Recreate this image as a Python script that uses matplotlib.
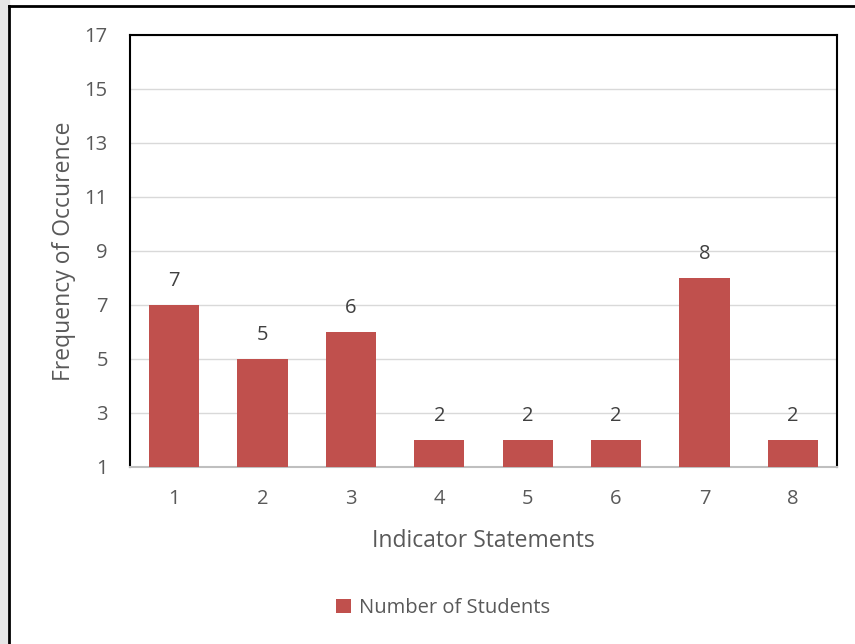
import matplotlib.pyplot as plt
from matplotlib.lines import Line2D
from matplotlib.patches import Rectangle

plt.rcParams['font.family'] = ['Open Sans', 'DejaVu Sans']

statements = ['1', '2', '3', '4', '5', '6', '7', '8']
students = [7, 5, 6, 2, 2, 2, 8, 2]
y_ticks = [1, 3, 5, 7, 9, 11, 13, 15, 17]

text_col = '#595959'
bar_col = '#C0504D'

fig = plt.figure(figsize=(8.55, 6.44), dpi=100)
W, H = 855, 644
ax = fig.add_axes([130 / W, 1 - 467 / H, (837 - 130) / W, (467 - 35) / H])

# grey strip + outer frame of the original screenshot
fig.patches.append(Rectangle((0, 0), 9 / W, 1, transform=fig.transFigure,
                             color='#e6e6e6', zorder=0))
fig.lines.append(Line2D([9 / W, 9 / W], [0, 1 - 6 / H], transform=fig.transFigure,
                        color='black', lw=2))
fig.lines.append(Line2D([9 / W, 1], [1 - 6 / H, 1 - 6 / H], transform=fig.transFigure,
                        color='black', lw=2))

x = range(len(statements))
bars = ax.bar(x, [v - 1 for v in students], bottom=1, width=0.57, color=bar_col,
              label='Number of Students', zorder=3)
for xi, v in zip(x, students):
    ax.annotate(str(v), (xi, v), xytext=(0, 17), textcoords='offset points',
                ha='center', va='center', fontsize=14.5, color='#404040')

ax.set_xlim(-0.5, len(statements) - 0.5)
ax.set_ylim(1, 17)
ax.set_yticks(y_ticks)
ax.set_xticks(list(x))
ax.set_xticklabels(statements)
ax.tick_params(length=0, labelsize=14.5, colors=text_col)
ax.tick_params(axis='x', pad=16)
ax.tick_params(axis='y', pad=16)
ax.yaxis.grid(True, color='#d9d9d9', lw=1, zorder=0)
ax.set_axisbelow(True)
for s in ['top', 'left', 'right']:
    ax.spines[s].set_color('black')
    ax.spines[s].set_linewidth(1.5)
ax.spines['bottom'].set_color('#bfbfbf')
ax.spines['bottom'].set_linewidth(1.5)

ax.set_ylabel('Frequency of Occurence', fontsize=16.5, color=text_col, labelpad=6)
ax.set_xlabel('Indicator Statements', fontsize=16.5, color=text_col, labelpad=14)

ax.legend(loc='center', bbox_to_anchor=(443 / W, 1 - 608 / H),
          bbox_transform=fig.transFigure, frameon=False, fontsize=14.5,
          labelcolor=text_col, handlelength=0.75, handleheight=0.75, handletextpad=0.4)

fig.savefig('out.png', dpi=100)
